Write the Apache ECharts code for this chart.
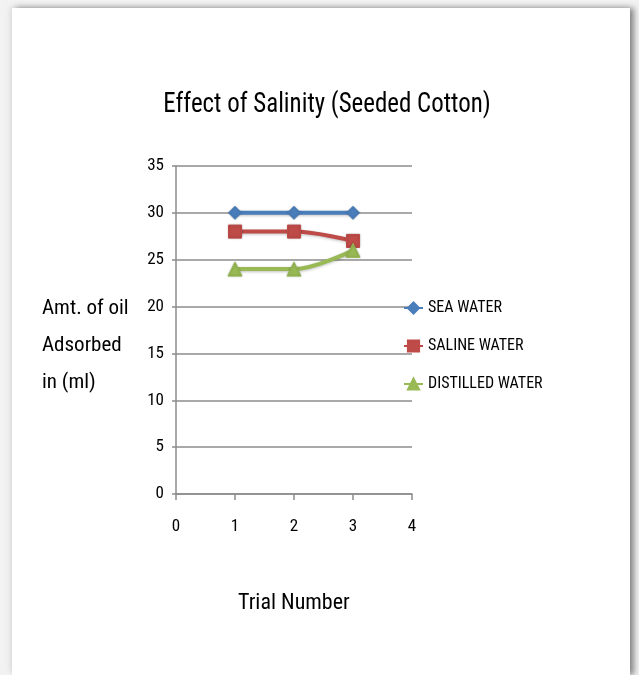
<!DOCTYPE html>
<html>
<head>
<meta charset="utf-8">
<script src="https://cdn.jsdelivr.net/npm/echarts@6/dist/echarts.min.js"></script>
<style>
  html, body { margin: 0; padding: 0; width: 639px; height: 675px; overflow: hidden; background: #f2f2f2; }
  #card { position: absolute; left: 12px; top: 8px; width: 618px; height: 667px; background: #fff;
          box-shadow: 4px 0 6px rgba(0,0,0,0.45), -3px -2px 6px rgba(0,0,0,0.06); }
  #chart { width: 618px; height: 667px; }
</style>
</head>
<body>
<div id="card"><div id="chart"></div></div>
<script>
// Trial numbers on the x axis
const trials = [1, 2, 3];
// Oil adsorbed (ml) for each water type
const seaWater = [30, 30, 30];
const salineWater = [28, 28, 27];
const distilledWater = [24, 24, 26];
const seriesNames = ['SEA WATER', 'SALINE WATER', 'DISTILLED WATER'];
const chartTitle = 'Effect of Salinity (Seeded Cotton)';
const yTitleLines = ['Amt. of oil', 'Adsorbed', 'in (ml)'];
const xTitle = 'Trial Number';

const FONT = '"Roboto Condensed", "Liberation Sans Narrow", "Liberation Sans", sans-serif';
const pairs = vals => trials.map((t, i) => [t, vals[i]]);

function lineSeries(name, vals, color, symbol, size) {
  return {
    name, type: 'line', smooth: 0.35, data: pairs(vals),
    symbol, symbolSize: size,
    lineStyle: { color, width: 4, shadowColor: 'rgba(0,0,0,0.25)', shadowBlur: 3, shadowOffsetY: 1 },
    itemStyle: { color, borderColor: color, borderWidth: 1, shadowColor: 'rgba(0,0,0,0.25)', shadowBlur: 2 },
    emphasis: { disabled: true }
  };
}

const chart = echarts.init(document.getElementById('chart'), null, { renderer: 'canvas' });
chart.setOption({
  animation: false,
  textStyle: { fontFamily: FONT },
  grid: { left: 164, top: 158, width: 236, height: 328 },
  xAxis: {
    type: 'value', min: 0, max: 4, interval: 1,
    axisLine: { show: true, lineStyle: { color: '#8c8c8c', width: 1.5 } },
    axisTick: { show: true, length: 6, lineStyle: { color: '#8c8c8c', width: 1.5 } },
    axisLabel: { margin: 24, color: '#000', fontSize: 17, fontFamily: FONT },
    splitLine: { show: false }
  },
  yAxis: {
    type: 'value', min: 0, max: 35, interval: 5,
    axisLine: { show: true, lineStyle: { color: '#8c8c8c', width: 1.5 } },
    axisTick: { show: true, length: 4, lineStyle: { color: '#8c8c8c', width: 1.5 } },
    axisLabel: { margin: 12, color: '#000', fontSize: 17, fontFamily: FONT },
    splitLine: { show: true, lineStyle: { color: '#8c8c8c', width: 1.5 } }
  },
  legend: {
    orient: 'vertical', left: 386, top: 287, itemGap: 22,
    itemWidth: 19, itemHeight: 14,
    textStyle: { color: '#000', fontSize: 16, fontFamily: FONT },
    data: seriesNames
  },
  series: [
    lineSeries(seriesNames[0], seaWater, '#4a7ebb', 'diamond', 13),
    lineSeries(seriesNames[1], salineWater, '#be4b48', 'rect', 13),
    lineSeries(seriesNames[2], distilledWater, '#98b954', 'triangle', 14)
  ],
  graphic: [
    { type: 'text', x: 315, y: 97, scaleX: 0.89,
      style: { text: chartTitle, fontSize: 28, fontFamily: FONT, fill: '#000', align: 'center', verticalAlign: 'middle' } },
    { type: 'text', x: 30, y: 282,
      style: { text: yTitleLines.join('\n'), fontSize: 21, lineHeight: 37, fontFamily: FONT, fill: '#000', verticalAlign: 'top' } },
    { type: 'text', x: 226, y: 595,
      style: { text: xTitle, fontSize: 22, fontFamily: FONT, fill: '#000', verticalAlign: 'middle' } }
  ]
});
</script>
</body>
</html>
